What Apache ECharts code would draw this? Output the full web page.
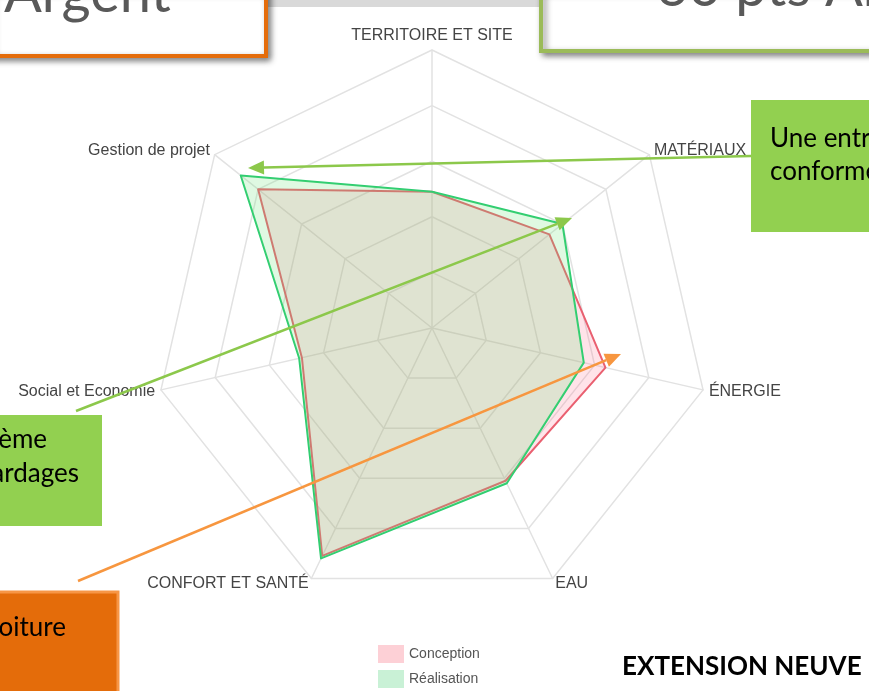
<!DOCTYPE html>
<html>
<head>
<meta charset="utf-8">
<script src="https://cdn.jsdelivr.net/npm/echarts@6/dist/echarts.min.js"></script>
<style>
  html, body { margin: 0; padding: 0; background: #fff; }
  #chart { width: 869px; height: 691px; }
</style>
</head>
<body>
<div id="chart"></div>
<script>
// axes (ECharts radar goes counter-clockwise from the top)
const indicators = ['TERRITOIRE ET SITE', 'Gestion de projet', 'Social et Economie', 'CONFORT ET SANTÉ', 'EAU', 'ÉNERGIE', 'MATÉRIAUX']
const conception = [49, 80, 48, 91, 61, 64, 54]
const realisation = [49, 88, 49, 92, 62, 56, 60]
const seriesNames = ['Conception', 'Réalisation']

// flèche d'annotation : ligne + pointe
const arrow = (x1, y1, x2, y2, color) => {
  const a = Math.atan2(y2 - y1, x2 - x1)
  const len = 16, half = 7
  const bx = x2 - len * Math.cos(a), by = y2 - len * Math.sin(a)
  return [
    { type: 'line', z: 100, shape: { x1: x1, y1: y1, x2: bx, y2: by }, style: { stroke: color, lineWidth: 2.5 } },
    { type: 'polygon', z: 100, shape: { points: [[x2, y2], [bx - half * Math.sin(a), by + half * Math.cos(a)], [bx + half * Math.sin(a), by - half * Math.cos(a)]] }, style: { fill: color } }
  ]
}

const boxFont = 'Lato, "Open Sans", sans-serif'
const shadow = { shadowBlur: 6, shadowColor: 'rgba(0,0,0,0.45)', shadowOffsetX: 3, shadowOffsetY: 3 }

const chart = echarts.init(document.getElementById('chart'))
chart.setOption({
  animation: false,
  legend: {
    orient: 'vertical',
    left: 378,
    bottom: 3,
    padding: 0,
    icon: 'rect',
    itemWidth: 26,
    itemHeight: 18,
    itemGap: 7,
    textStyle: { color: '#555', fontSize: 14, fontFamily: 'Liberation Sans, Arial' },
    data: [
      { name: 'Conception', itemStyle: { color: '#fdd0d6' } },
      { name: 'Réalisation', itemStyle: { color: '#c9f1d6' } }
    ]
  },
  radar: {
    center: [432, 328],
    radius: 278,
    splitNumber: 5,
    shape: 'polygon',
    indicator: indicators.map(n => ({ name: n, max: 100 })),
    axisName: { color: '#444', fontSize: 16, fontFamily: 'Liberation Sans, Arial' },
    nameGap: 6,
    splitArea: { show: false },
    splitLine: { lineStyle: { color: '#e2e2e2', width: 1.5 } },
    axisLine: { lineStyle: { color: '#e2e2e2', width: 1.5 } }
  },
  series: [{
    type: 'radar',
    symbol: 'none',
    data: [
      {
        name: seriesNames[0],
        value: conception,
        lineStyle: { color: '#e8606f', width: 2 },
        itemStyle: { color: '#e8606f' },
        areaStyle: { color: 'rgba(255,99,132,0.25)' }
      },
      {
        name: seriesNames[1],
        value: realisation,
        lineStyle: { color: '#2ecc71', width: 2 },
        itemStyle: { color: '#2ecc71' },
        areaStyle: { color: 'rgba(105,228,117,0.3)' }
      }
    ]
  }],
  graphic: [
    { type: 'rect', z: 90, shape: { x: 260, y: 0, width: 290, height: 7 }, style: { fill: '#d9d9d9' } },
    // cadre "Argent"
    { type: 'rect', z: 100, shape: { x: -10, y: -10, width: 276, height: 66 }, style: Object.assign({ fill: '#fff', stroke: '#e46c0a', lineWidth: 4 }, shadow) },
    { type: 'text', z: 101, style: { text: 'Argent', x: 4, y: 22, fill: '#595959', font: '56px ' + boxFont, verticalAlign: 'bottom' } },
    // cadre "60 pts"
    { type: 'rect', z: 100, shape: { x: 541, y: -10, width: 350, height: 61 }, style: Object.assign({ fill: '#fff', stroke: '#9bbb59', lineWidth: 4 }, shadow) },
    { type: 'text', z: 101, style: { text: '60 pts Argent', x: 656, y: 16, fill: '#595959', font: '56px ' + boxFont, verticalAlign: 'bottom' } },
    // encadré vert à droite
    { type: 'rect', z: 100, shape: { x: 751, y: 100, width: 130, height: 132 }, style: { fill: '#92d050' } },
    { type: 'text', z: 101, style: { text: 'Une entreprise\nconforme', x: 770, y: 122, fill: '#000', font: '26px ' + boxFont, lineHeight: 33 } },
    // encadré vert à gauche
    { type: 'rect', z: 100, shape: { x: -10, y: 415, width: 112, height: 111 }, style: { fill: '#92d050' } },
    { type: 'text', z: 101, style: { text: 'Système', x: 47, y: 440, fill: '#000', font: '26px ' + boxFont, align: 'right', verticalAlign: 'middle' } },
    { type: 'text', z: 101, style: { text: 'bardages', x: 79, y: 474, fill: '#000', font: '26px ' + boxFont, align: 'right', verticalAlign: 'middle' } },
    // encadré orange
    { type: 'rect', z: 100, shape: { x: -10, y: 592, width: 128, height: 110 }, style: { fill: '#e46c0a', stroke: '#f79646', lineWidth: 3 } },
    { type: 'text', z: 101, style: { text: 'toiture', x: 66, y: 628, fill: '#000', font: '26px ' + boxFont, align: 'right', verticalAlign: 'middle' } },
    { type: 'text', z: 101, style: { text: 'EXTENSION NEUVE', x: 622, y: 667, fill: '#000', font: 'bold 26px ' + boxFont, verticalAlign: 'middle' } },
    ...arrow(751, 156, 248, 168, '#8cc84b'),
    ...arrow(76, 411, 572, 218, '#8cc84b'),
    ...arrow(78, 581, 621, 354, '#f7963f')
  ]
})
</script>
</body>
</html>
